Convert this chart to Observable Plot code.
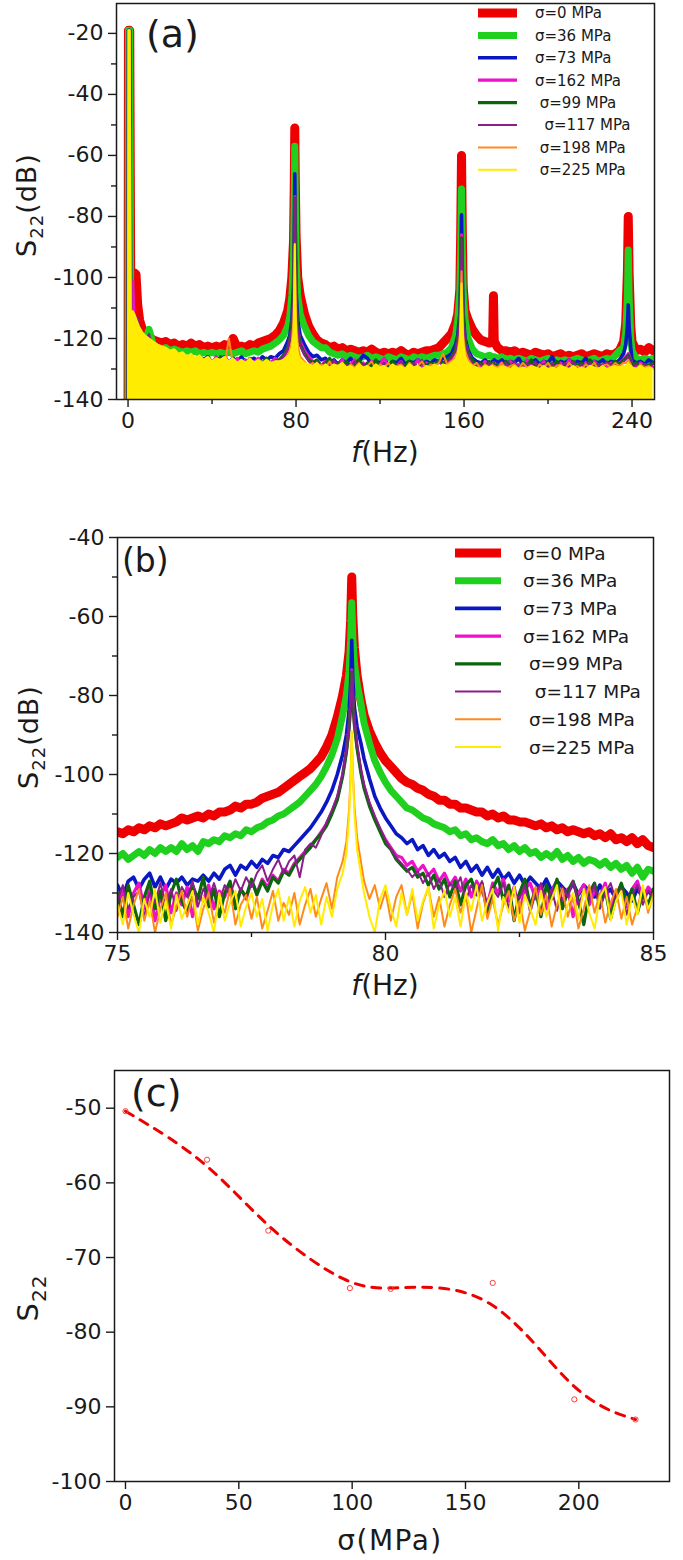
<!DOCTYPE html>
<html><head><meta charset="utf-8">
<script src="https://cdn.jsdelivr.net/npm/d3@7"></script>
<script src="https://cdn.jsdelivr.net/npm/@observablehq/plot@0.6"></script>
<style>
html,body{margin:0;padding:0;background:#fff}
body{width:683px;height:1560px;position:relative;overflow:hidden}
.panel{position:absolute;left:0}
svg text{white-space:pre}
</style></head><body>
<div id="pa" class="panel" style="top:0px"></div>
<div id="pb" class="panel" style="top:500px"></div>
<div id="pc" class="panel" style="top:1040px"></div>
<script>
// ---------------- DATA ----------------
const seriesLabels = ["σ=0 MPa","σ=36 MPa","σ=73 MPa","σ=162 MPa"," σ=99 MPa","  σ=117 MPa"," σ=198 MPa"," σ=225 MPa"];

// Panel (a): frequency (Hz)
const freqA = [0,0.2,0.8,1.3,2.2,3,3.8,4.6,5.5,6.8,
8,10,12,14,16,18,20,22,24,26,28,30,32,34,36,38,40,42,44,46,48,50,52,54,56,58,60,62,64,66,68,70,72,74,76,
77,78,78.8,79.15,79.4,79.65,80,80.8,
82,84,86,88,90,92,94,96,98,100,102,104,106,108,110,112,114,116,118,120,122,124,126,128,130,132,134,136,138,140,142,144,146,148,150,152,154,156,
157,158,158.4,158.8,159.2,159.6,160.5,
162,164,166,168,170,172,
173.6,174,174.4,
176,178,180,182,184,186,188,190,192,194,196,198,200,202,204,206,208,210,212,214,216,218,220,222,224,226,228,230,232,234,236,
237,237.8,238.2,238.6,239.4,
240,242,244,246,248,250];

const s0A = [-140,-19,-19,-105,-101,-98.5,-99,-109,-114,-117,
-118.5,-119.5,-120.5,-121,-121.5,-121,-122,-121.5,-122.5,-122,
-122.5,-121.5,-122.5,-122,-123,-122.5,-123,-122.5,-123,-122,
-123.5,-120,-123,-122.5,-123,-122,-122.5,-121.5,-121,-120.5,
-120,-119,-117.5,-115,-111,
-107,-100,-88,-70,-51,-68,-86,-100,
-106,-112,-116,-118.5,-120.5,-121.5,-122,-123,-122.5,-123.5,
-123,-124,-123.5,-124,-124.5,-124,-124.5,-123.5,-124.5,-125,
-124.5,-125,-124.5,-125,-124,-125,-125.5,-124.5,-125,-124.5,
-124,-124,-123.5,-123,-121.5,-120,-118.5,-115,
-112,-104,-86,-60,-86,-103,-111,
-114,-117,-119,-120.5,-121,-121.5,
-121,-106,-121,
-123,-124,-124,-124.5,-124,-125,-124.5,-125,-125.5,-124.5,
-125,-125.5,-125,-126,-125.5,-125,-126,-125.5,-126,-125.5,
-125,-126,-125.5,-125,-125.5,-126,-125,-125.5,-125,-124,
-121,
-115,-98,-80,-98,-116,
-121,-124,-123.5,-124.5,-123,-124];

const s36A = [-140,-19,-19,-118,-114,-116,-118,-120,-121,-122,
-121,-117,-122,-123,-123.5,-123,-124,-123.5,-124,-124.5,
-124,-124.5,-124,-125,-124.5,-125,-124.5,-125,-124.5,-125,
-124.5,-125,-124.5,-124,-125,-124.5,-124,-124.5,-123.5,-123,
-122.5,-121.5,-120.5,-119,-116,
-113,-106,-94,-76,-57,-74,-94,-106,
-112,-116,-119,-121,-122,-123,-123,-124.5,-125,-125.5,
-125,-126,-125.5,-126,-126.5,-126,-125.5,-126.5,-126,-126.5,
-127,-126,-126.5,-127,-126,-126.5,-127,-126,-126.5,-126,
-126.5,-126,-125.5,-125.5,-125,-124.5,-123,-119,
-114,-105,-92,-71,-92,-104,-114,
-120,-123.5,-125,-125.5,-126,-125.5,
-126,-126.5,-126,
-126.5,-126,-127,-126.5,-127,-126.5,-127,-127.5,-126.5,-127,
-127.5,-127,-126.5,-127.5,-127,-127.5,-127,-127.5,-127,-126.5,
-127,-127.5,-127,-126.5,-127.5,-127,-126.5,-127,-125.5,-124,
-123,
-118,-106,-91,-106,-120,
-124,-126.5,-127,-126.5,-127,-126.5];

const s73A = [-140,-19,-19,-125,-122,-124,-126,-124,-125,-123,
-122,-121,-124,-125,-124,-126,-125,-127,-125.5,-126,
-127,-125.5,-127.5,-126,-127,-126,-128,-126.5,-127,-126,
-128,-126.5,-127.5,-126,-128,-127,-126.5,-127.5,-126,-127,
-126,-126.5,-125,-124,-121,
-119,-114,-103,-86,-66,-85,-104,-114,
-119,-122,-124.5,-126,-125.5,-127,-126.5,-128,-127,-128.5,
-127,-128,-126.5,-128.5,-127.5,-125.5,-126.5,-128.5,-127.5,-128,
-127,-128.5,-127.5,-128,-126.5,-128.5,-127.5,-128,-127,-128.5,
-127.5,-128,-127,-127.5,-126.5,-126,-125,-122,
-119,-112,-100,-79.5,-100,-112,-120,
-124,-126.5,-127.5,-128,-127,-128.5,
-127.5,-128.5,-127,
-128,-127,-128.5,-127.5,-128,-126.5,-128.5,-127.5,-128,-127,
-128.5,-127.5,-128,-126,-128.5,-127.5,-128,-127,-128.5,-127.5,
-128,-126.5,-128.5,-127.5,-128,-127,-128.5,-127.5,-128,-127,
-125,
-122,-116,-109,-116,-123,
-127,-128,-127.5,-128.5,-127,-128];

const s162A = [-140,-19,-19,-120,-101,-118,-122,-124,-125,-124,
-124,-126,-125,-127,-126.5,-128,-127,-129,-126,-128.5,
-127.5,-129,-126.5,-128,-129.5,-127,-128.5,-126,-129,-127.5,
-128,-129.5,-126.5,-128.5,-127,-129,-128,-126.5,-128.5,-127,
-128,-126.5,-127.5,-126,-124,
-121,-117,-108,-92,-73.5,-92,-108,-117,
-121,-124,-126,-127.5,-128,-129,-127.5,-129.5,-128,-129,
-127,-129.5,-128.5,-127,-129,-128,-130,-127.5,-129,-128.5,
-126.5,-129.5,-128,-129,-127.5,-130,-128.5,-129,-127,-129.5,
-128,-129,-128.5,-127.5,-128.5,-127.5,-126.5,-124,
-121,-115,-104,-86,-104,-115,-121,
-125,-127.5,-128.5,-129,-127.5,-129,
-128,-129.5,-128,
-129,-128,-129.5,-127.5,-129,-128.5,-130,-127,-129.5,-128.5,
-129,-127.5,-130,-128.5,-129,-128,-129.5,-127,-129,-128.5,
-130,-128,-129.5,-127.5,-129,-128.5,-130,-128,-129,-128,
-127,
-126,-125.5,-125,-125.5,-127,
-128.5,-129.5,-128,-129,-128.5,-129.5];

const s99A = [-140,-19,-19,-126,-123,-118,-114,-117,-121,-123,
-122,-120,-124,-126.5,-125.5,-127.5,-126,-128.5,-127,-128,
-126.5,-129,-127.5,-128.5,-126.5,-129,-127.5,-128,-126,-129,
-128,-127,-129.5,-127.5,-128.5,-126.5,-129,-127.5,-128,-126.5,
-128.5,-127.5,-127,-125.5,-123,
-120,-116,-107,-91,-74,-91,-107,-117,
-122,-125,-127,-128,-127,-129,-128,-126.5,-129,-128,
-129.5,-127.5,-129,-128.5,-127,-129.5,-128,-129,-127,-129.5,
-128.5,-129,-127.5,-129.5,-128,-129,-127.5,-128.5,-129.5,-127.5,
-129,-128,-128.5,-127.5,-128,-127,-126,-123.5,
-120,-114,-103,-87,-103,-114,-121,
-125.5,-127,-129,-128,-129.5,-127.5,
-129,-128,-129.5,
-128.5,-129.5,-127.5,-129,-128.5,-130,-128,-129,-127,-129.5,
-128.5,-129,-128,-129.5,-127.5,-129,-128.5,-130,-127.5,-129,
-128,-129.5,-127,-129,-128.5,-129.5,-128,-129,-127.5,-128.5,
-127,
-126.5,-126,-125.5,-126,-127.5,
-129,-128,-129.5,-128.5,-129,-128];

const s117A = [-140,-19,-19,-127,-124,-118,-113,-113,-116,-120,
-121,-118.5,-124,-127,-126,-128.5,-126.5,-129,-127.5,-128.5,
-127,-129.5,-128,-129,-126.5,-129,-128,-129.5,-127,-128.5,
-129,-127.5,-129.5,-128,-129,-127,-129,-128,-128.5,-127,
-128.5,-127.5,-127,-126,-123.5,
-120.5,-116.5,-107.5,-91,-74.2,-91,-107.5,-117.5,
-122.5,-125.5,-127.5,-129,-127.5,-130,-128,-129.5,-127,-129,
-130,-128.5,-129.5,-127.5,-130,-128.5,-129,-127.5,-130,-129,
-128,-130,-128.5,-129.5,-127.5,-130,-129,-128,-129.5,-127,
-130,-128.5,-129,-128,-128.5,-127.5,-126.5,-124,
-120.5,-114.5,-104,-87.5,-104,-114.5,-121.5,
-126,-128,-129.5,-128.5,-130,-128,
-129.5,-128,-130,
-129,-130,-128,-129.5,-127.5,-130,-129,-128,-129.5,-127.5,
-130,-128.5,-129.5,-128,-130,-129,-128,-129.5,-127.5,-130,
-128.5,-129,-128,-130,-128.5,-129.5,-127.5,-129,-128.5,-129,
-127.5,
-127,-126.5,-126,-126.5,-128,
-129.5,-128.5,-130,-128.5,-129.5,-128.5];

const s198A = [-140,-19,-19,-128,-126,-124,-122,-122,-123,-124,
-124,-125,-126,-127,-128,-126.5,-129,-127.5,-128.5,-129.5,
-127,-129,-128,-130,-127.5,-129,-128.5,-129.5,-127,-129,
-120,-128.5,-129.5,-128,-129,-127.5,-129.5,-128.5,-129,-127.5,
-129,-128,-128.5,-127,-125.5,
-124,-121,-114,-101,-89.5,-101,-114,-122,
-126,-127.5,-129,-128,-130,-128.5,-129.5,-127.5,-130,-129,
-128,-130.5,-128.5,-129.5,-128,-130,-129,-127.5,-130,-128.5,
-129.5,-128,-130,-129,-128.5,-130,-128,-129.5,-129,-127.5,
-130,-128.5,-129,-128,-125,-128.5,-127.5,-126,
-124,-119,-110,-98,-110,-119,-124,
-127,-129,-128,-130,-128.5,-129.5,
-128.5,-130,-129,
-129.5,-128,-130,-129,-128.5,-130,-128,-129.5,-129,-130.5,
-128.5,-129.5,-128,-130,-129,-128.5,-130,-128,-129.5,-129,
-130,-128.5,-129.5,-128,-130,-129,-128.5,-129.5,-128,-129,
-128,
-128,-127.5,-127,-127.5,-128.5,
-129.5,-130,-128.5,-129.5,-129,-130];

const s225A = [-140,-19,-19,-112,-111,-112,-113.5,-115,-116.5,-118,
-119,-120,-121,-122,-122.5,-123,-124,-123.5,-125,-124.5,
-126,-125,-126.5,-125.5,-127,-126,-127.5,-126.5,-127,-126,
-127.5,-126.5,-128,-127,-128,-126.5,-128,-127,-128,-127,
-128,-127.5,-127.5,-127,-126,
-125,-123,-118,-106,-89,-106,-118,-125,
-127,-128,-128.5,-129,-128,-129.5,-128.5,-129.5,-128.5,-129,
-128,-129.5,-129,-130,-128.5,-129.5,-129,-130,-128.5,-129.5,
-129,-130,-128.5,-129.5,-129,-130,-128.5,-129.5,-129,-130,
-129,-129.5,-128.5,-129.5,-128.5,-129,-128,-127,
-125,-121,-113,-102,-113,-121,-126,
-128,-129,-129.5,-130,-129,-129.5,
-129,-130,-129.5,
-130,-129,-129.5,-130,-129,-130,-129.5,-130,-129,-129.5,
-130,-129,-130,-129.5,-130,-129,-129.5,-130,-129,-130,
-129.5,-130,-129,-129.5,-130,-129,-130,-129.5,-129,-129.5,
-129,
-129,-128.5,-128,-128.5,-129,
-129.5,-130,-129,-130,-129.5,-130];

// Panel (b): frequency (Hz)
const freqB = [75,75.1,75.2,75.3,75.4,75.5,75.6,75.7,75.8,75.9,
76,76.1,76.2,76.3,76.4,76.5,76.6,76.7,76.8,76.9,
77,77.1,77.2,77.3,77.4,77.5,77.6,77.7,77.8,77.9,
78,78.1,78.2,78.3,78.4,78.5,78.6,78.7,78.8,78.9,
79,79.1,
79.2,79.27,79.32,79.35,79.37,79.39,79.42,79.47,79.54,
79.6,79.7,79.8,79.9,
80,80.1,80.2,80.3,80.4,80.5,80.6,80.7,80.8,80.9,
81,81.1,81.2,81.3,81.4,81.5,81.6,81.7,81.8,81.9,
82,82.1,82.2,82.3,82.4,82.5,82.6,82.7,82.8,82.9,
83,83.1,83.2,83.3,83.4,83.5,83.6,83.7,83.8,83.9,
84,84.1,84.2,84.3,84.4,84.5,84.6,84.7,84.8,84.9,
85];

const s0B = [-114.5,-115,-114,-114.5,-113.5,-114,-113,-113.5,-112.5,-113,
-112.5,-112,-111,-111.5,-111,-110.5,-111,-110,-110.5,-109.5,
-109.5,-109,-108,-108.5,-107.5,-107.5,-107,-106,-105.5,-105,
-104.5,-103.5,-102.5,-101.5,-100.5,-99.5,-98.5,-97,-95.5,-93,
-90,-85.5,
-80,-75,-69,-61,-50,-60,-68,-75,-81,
-85,-89,-92,-94.5,
-96.5,-98,-99.5,-101,-102,-102.5,-103.5,-104,-105,-105.5,
-106.5,-106.5,-107.5,-107.5,-108.5,-108.5,-109,-109.5,-109.5,-110.5,
-110,-111,-110.5,-111.5,-111.5,-112,-112,-112.5,-113,-112.5,
-113.5,-113,-114,-113.5,-114.5,-114,-114.5,-115,-114.5,-115.5,
-115,-116,-115,-116.5,-116,-117,-116,-117.5,-116.5,-118,
-118.5];

const s36B = [-121,-120,-121.5,-120.5,-119.5,-120.5,-119,-120,-118.5,-119.5,
-118.5,-119.5,-117.5,-119,-118,-119.5,-117,-117.5,-116.5,-117,
-115.5,-116,-115,-115.5,-114,-114.5,-113.5,-113,-112,-111.5,
-110.5,-110,-109,-108,-107,-105.5,-104,-102.5,-100.5,-98,
-95,-91,
-85,-80,-74,-66,-56.5,-65,-72,-77,-82,
-87,-92,-96.5,-99.5,
-102,-104,-105.5,-107,-108.5,-109,-110,-111,-111.5,-112.5,
-113,-113.5,-114.5,-114,-115.5,-115,-116.5,-116,-117,-117.5,
-116.5,-118,-117.5,-119,-118,-119.5,-118.5,-120,-119.5,-121,
-120,-121,-119.5,-121.5,-120.5,-122,-121,-122.5,-121.5,-122,
-123,-122,-123.5,-122.5,-124,-123,-125,-123.5,-126,-124,
-124.5];

const s73B = [-128,-131,-127,-126,-129,-126.5,-125,-128.5,-126,-129,
-126.5,-127.5,-126,-128,-126.5,-127,-125.5,-127,-125,-126.5,
-124,-123,-125.5,-123,-124,-122,-123.5,-121.5,-122.5,-120.5,
-121,-119,-119.5,-118,-116.5,-115,-113.5,-111.5,-109.5,-107,
-104,-100,
-95,-90,-84,-77,-66,-76,-83,-88,-92,
-96,-101,-105.5,-108.5,
-111,-113,-115,-116,-117.5,-116.5,-119,-118,-120.5,-119,
-121,-120,-122,-121,-123.5,-122,-124.5,-123,-125.5,-123.5,
-126,-124,-126.5,-125,-127.5,-125.5,-128,-126,-127.5,-129,
-126.5,-129.5,-127,-128.5,-130,-127.5,-130.5,-128,-129.5,-131,
-128,-130.5,-129,-131.5,-128.5,-130,-132,-129,-131,-129.5,
-131];

const s162B = [-133,-129,-136,-130,-127.5,-134,-129,-137,-131,-128,
-135,-130,-133,-128.5,-136,-130.5,-132,-128,-134,-129.5,
-131,-127.5,-133,-129,-131.5,-127,-130,-126.5,-128.5,-125.5,
-127,-124,-125,-122.5,-121,-119.5,-118,-116.5,-114.5,-112.5,
-109.5,-106,
-100,-94,-88,-82,-73.5,-81,-87,-93,-99,
-103,-107.5,-111,-114,
-116.5,-118.5,-120.5,-121,-123,-122,-124.5,-123,-125.5,-124,
-127,-125,-128,-126,-129.5,-126.5,-131,-127,-129.5,-133,
-127.5,-130,-126.5,-132,-128.5,-135,-129,-127.5,-131.5,-128,
-134,-129.5,-127,-132.5,-129,-136,-130,-128,-133,-129.5,
-131,-127.5,-134.5,-130,-128.5,-133.5,-129,-127,-131.5,-128.5,
-130];

const s99B = [-130,-136,-128,-133,-138,-131,-127,-134,-129.5,-137,
-130,-126.5,-132,-135,-128,-131.5,-126,-133.5,-129,-136,
-130,-127,-134,-129,-131,-126.5,-130.5,-127,-129.5,-126,
-127.5,-124.5,-125.5,-123,-121.5,-120,-118.5,-116.5,-115,-113,
-110,-106.5,
-100.5,-94.5,-88.5,-82.5,-74,-81.5,-87.5,-93.5,-99.5,
-103.5,-108,-111.5,-114.5,
-117.5,-119,-121.5,-123,-124.5,-123.5,-126,-125,-128,-125.5,
-129,-126.5,-131,-127,-133,-128,-126.5,-130.5,-127.5,-135,
-129,-126,-132,-128,-137,-130,-126.5,-133.5,-129,-136,
-128,-131.5,-126.5,-134,-129.5,-127,-132,-138,-130,-127.5,
-133.5,-129,-136.5,-131,-127.5,-132.5,-129,-135,-130,-133,
-129];

const s117B = [-132,-128,-134,-131,-129.5,-136,-130,-132.5,-127.5,-133,
-129,-134.5,-128.5,-131,-127,-133.5,-129,-131.5,-127.5,-132,
-128,-130.5,-126.5,-129.5,-126,-128.5,-125,-123,-127,-124,
-121.5,-125,-122,-120.5,-126,-119,-117.5,-118.5,-115.5,-112,
-109,-105.5,
-100,-94,-88.5,-82,-74.2,-81,-87,-92.5,-98.5,
-102.5,-107,-110.5,-113.5,
-116.5,-119,-121,-122.5,-124,-126,-124.5,-127.5,-125,-129,
-126.5,-131,-127.5,-129,-126,-132,-128,-130.5,-127,-133.5,
-129,-131,-127.5,-134,-129.5,-131.5,-128,-135,-130,-127.5,
-132.5,-129,-134.5,-128.5,-131,-127,-133,-129.5,-131.5,-128,
-134,-130,-127.5,-132,-129,-135.5,-130.5,-128,-133,-129.5,
-131];

const s198B = [-136,-131,-139,-133,-129,-137,-132,-140,-134,-130,
-138,-133.5,-129.5,-136,-131,-139.5,-134,-130,-137.5,-132,
-135,-129,-138,-133,-130.5,-136.5,-131,-139,-134.5,-129.5,
-137,-132.5,-135.5,-130,-138,-133,-129,-136,-131.5,-127.5,
-134,-126,
-122,-117,-109,-100,-89.5,-99,-108,-116,-122,
-127,-131.5,-128,-134,
-129.5,-137,-131,-128,-135.5,-130,-139,-132.5,-128.5,-136,
-131,-138.5,-133,-129,-135,-130.5,-140,-134,-128,-136.5,
-131.5,-138,-133,-129.5,-137,-132,-139.5,-134.5,-128.5,-135.5,
-130.5,-138.5,-133,-129,-136,-131,-139,-134,-128,-135,
-130,-137.5,-132.5,-129,-136.5,-131,-138,-133.5,-128.5,-135,
-130];

const s225B = [-133,-138,-130,-135.5,-140,-131.5,-136,-129,-137.5,-132,
-139,-130.5,-136.5,-133,-129.5,-138,-131,-135,-140,-130,
-137,-132.5,-129.5,-138.5,-133.5,-130,-136,-131.5,-139.5,-133,
-129,-137,-131,-138.5,-132,-128.5,-135,-130.5,-138,-131,
-136,-129,
-125,-120,-111,-101,-89,-100,-110,-119,-125,
-130,-136,-140,-131.5,
-128,-134,-138.5,-130,-135.5,-129,-137,-132,-128.5,-139,
-133,-129.5,-136,-131,-138.5,-130,-134.5,-128,-137,-132.5,
-129,-139.5,-131,-135,-128.5,-137.5,-130.5,-134,-138,-129.5,
-136,-131.5,-128,-138.5,-133,-130,-136.5,-129,-135,-139,
-131,-128.5,-137,-132,-129.5,-138,-130.5,-135.5,-128,-134,
-131];

// Panel (c)
const sigmaC = [0, 36, 63, 99, 117, 162, 198, 225];
const s22C = [-50.4, -56.9, -66.4, -74.1, -74.2, -73.4, -89.0, -91.7];

// Ticks
const xTicksA = [0, 80, 160, 240], xMinorA = [40, 120, 200];
const yTicksA = [-20, -40, -60, -80, -100, -120, -140], yMinorA = [-30, -50, -70, -90, -110, -130];
const xTicksB = [75, 80, 85], xMinorB = [77.5, 82.5];
const yTicksB = [-40, -60, -80, -100, -120, -140], yMinorB = [-50, -70, -90, -110, -130];
const xTicksC = [0, 50, 100, 150, 200];
const yTicksC = [-50, -60, -70, -80, -90, -100];

// ---------------- STYLE ----------------
const colors = ["#ee0000", "#1fd01f", "#0a18c4", "#ee10cc", "#0b660b", "#8a1f8a", "#ff8a1c", "#ffec00"];
const widths = [9, 7, 3.6, 3.2, 3.2, 2, 2, 2];
const FONT = "'DejaVu Sans', 'Liberation Sans', sans-serif";
const INK = "#1a1a1a";

const seriesA = [s0A, s36A, s73A, s162A, s99A, s117A, s198A, s225A];
const seriesB = [s0B, s36B, s73B, s162B, s99B, s117B, s198B, s225B];
seriesA.forEach((s, k) => { if (s.length !== freqA.length) throw new Error("A series " + k + " len " + s.length + " vs " + freqA.length); });
seriesB.forEach((s, k) => { if (s.length !== freqB.length) throw new Error("B series " + k + " len " + s.length + " vs " + freqB.length); });

function axes(xMajor, xMinor, yMajor, yMinor) {
  const m = [
    Plot.axisX({ticks: xMajor, tickSize: 8, tickPadding: 5, tickFormat: d => String(d), fontSize: 22, strokeWidth: 1.4, label: null}),
    Plot.axisY({ticks: yMajor, tickSize: 8, tickPadding: 5, tickFormat: d => String(d), fontSize: 22, strokeWidth: 1.4, label: null})
  ];
  if (xMinor) m.push(Plot.axisX({ticks: xMinor, tickSize: 5, tickFormat: () => "", strokeWidth: 1.4, label: null}));
  if (yMinor) m.push(Plot.axisY({ticks: yMinor, tickSize: 5, tickFormat: () => "", strokeWidth: 1.4, label: null}));
  return m;
}

function spectrum(freqs, series, yDomain, fillLast) {
  const marks = [];
  series.forEach((vals, k) => {
    const data = freqs.map((f, i) => ({f, v: vals[i]}));
    if (fillLast && k === series.length - 1) {
      marks.push(Plot.areaY(data, {x: "f", y1: () => yDomain[0], y2: "v", fill: colors[k], clip: true}));
    }
    marks.push(Plot.line(data, {x: "f", y: "v", stroke: colors[k], strokeWidth: widths[k],
      strokeLinejoin: "round", strokeLinecap: "round", clip: true}));
  });
  return marks;
}

function addText(svg, x, y, str, size, opts = {}) {
  const t = d3.select(svg).append("text").attr("x", x).attr("y", y)
    .attr("font-family", FONT).attr("font-size", size).attr("fill", INK)
    .attr("text-anchor", opts.anchor || "start");
  if (opts.ls) t.attr("letter-spacing", opts.ls);
  t.text(str);
  return t;
}

function addYLabel(svg, x, y, size, suffix) {
  const t = d3.select(svg).append("text")
    .attr("transform", `translate(${x},${y}) rotate(-90)`)
    .attr("text-anchor", "middle").attr("font-family", FONT).attr("font-size", size).attr("fill", INK)
    .attr("letter-spacing", 1);
  t.append("tspan").text("S");
  t.append("tspan").attr("font-size", Math.round(size * 0.68)).attr("dy", size * 0.26).text("22");
  if (suffix) t.append("tspan").attr("dy", -size * 0.26).text(suffix);
}

function addXLabelF(svg, x, y, size) {
  const t = d3.select(svg).append("text").attr("x", x).attr("y", y)
    .attr("text-anchor", "middle").attr("font-family", FONT).attr("font-size", size).attr("fill", INK);
  t.append("tspan").attr("font-style", "italic").text("f");
  t.append("tspan").text("(Hz)");
}

function addLegend(svg, x0, x1, tx, y0, dy, size) {
  const g = d3.select(svg).append("g").attr("text-anchor", "start");
  seriesLabels.forEach((lab, i) => {
    const y = y0 + i * dy;
    g.append("line").attr("x1", x0).attr("x2", x1).attr("y1", y).attr("y2", y)
      .attr("stroke", colors[i]).attr("stroke-width", widths[i]);
    g.append("text").attr("x", tx).attr("y", y).attr("dy", "0.36em")
      .attr("text-anchor", "start")
      .attr("font-family", FONT).attr("font-size", size).attr("fill", INK)
      .attr("xml:space", "preserve").text(lab);
  });
}

const baseStyle = {fontFamily: FONT, fontSize: "22px", color: INK, background: "transparent", overflow: "visible"};

// ---------------- PANEL (a) ----------------
{
  const yDom = [-140, -10.2];
  const svg = Plot.plot({
    width: 683, height: 470,
    marginTop: 3, marginBottom: 71, marginLeft: 116, marginRight: 29,
    x: {domain: [-5.5, 250.7]},
    y: {domain: yDom},
    style: baseStyle,
    marks: [
      ...spectrum(freqA, seriesA, yDom, true),
      Plot.frame({stroke: INK, strokeWidth: 1.5}),
      ...axes(xTicksA, xMinorA, yTicksA, yMinorA)
    ]
  });
  document.getElementById("pa").append(svg);
  addText(svg, 146, 47, "(a)", 38);
  addLegend(svg, 478, 517, 535, 13, 22.4, 15);
  addXLabelF(svg, 385, 462, 28);
  addYLabel(svg, 36, 205, 27, "(dB)");
}

// ---------------- PANEL (b) ----------------
{
  const yDom = [-140, -40];
  const svg = Plot.plot({
    width: 683, height: 520,
    marginTop: 37, marginBottom: 88, marginLeft: 117, marginRight: 30,
    x: {domain: [75, 85]},
    y: {domain: yDom},
    style: baseStyle,
    marks: [
      ...spectrum(freqB, seriesB, yDom, false),
      Plot.frame({stroke: INK, strokeWidth: 1.5}),
      ...axes(xTicksB, xMinorB, yTicksB, yMinorB)
    ]
  });
  document.getElementById("pb").append(svg);
  addText(svg, 122, 72, "(b)", 33);
  addLegend(svg, 455, 501, 523, 53, 27.7, 18.5);
  addXLabelF(svg, 385, 495, 28);
  addYLabel(svg, 38, 237, 27, "(dB)");
}

// ---------------- PANEL (c) ----------------
{
  const data = sigmaC.map((s, i) => ({sigma: s, s22: s22C[i]}));
  const svg = Plot.plot({
    width: 683, height: 520,
    marginTop: 30, marginBottom: 79, marginLeft: 114, marginRight: 14,
    x: {domain: [-4.85, 240]},
    y: {domain: [-100, -44.95]},
    style: baseStyle,
    marks: [
      Plot.line(data, {x: "sigma", y: "s22", curve: "basis", stroke: "#ee0000", strokeWidth: 3, strokeDasharray: "9,8"}),
      Plot.dot(data, {x: "sigma", y: "s22", r: 2.6, stroke: "#ff3b3b", strokeWidth: 1, fill: "none"}),
      Plot.frame({stroke: INK, strokeWidth: 1.5}),
      ...axes(xTicksC, null, yTicksC, null)
    ]
  });
  document.getElementById("pc").append(svg);
  addText(svg, 131, 66, "(c)", 38);
  addText(svg, 390, 510, "σ(MPa)", 28, {anchor: "middle", ls: 1.5});
  addYLabel(svg, 38, 258, 29, null);
}
</script>
</body></html>
